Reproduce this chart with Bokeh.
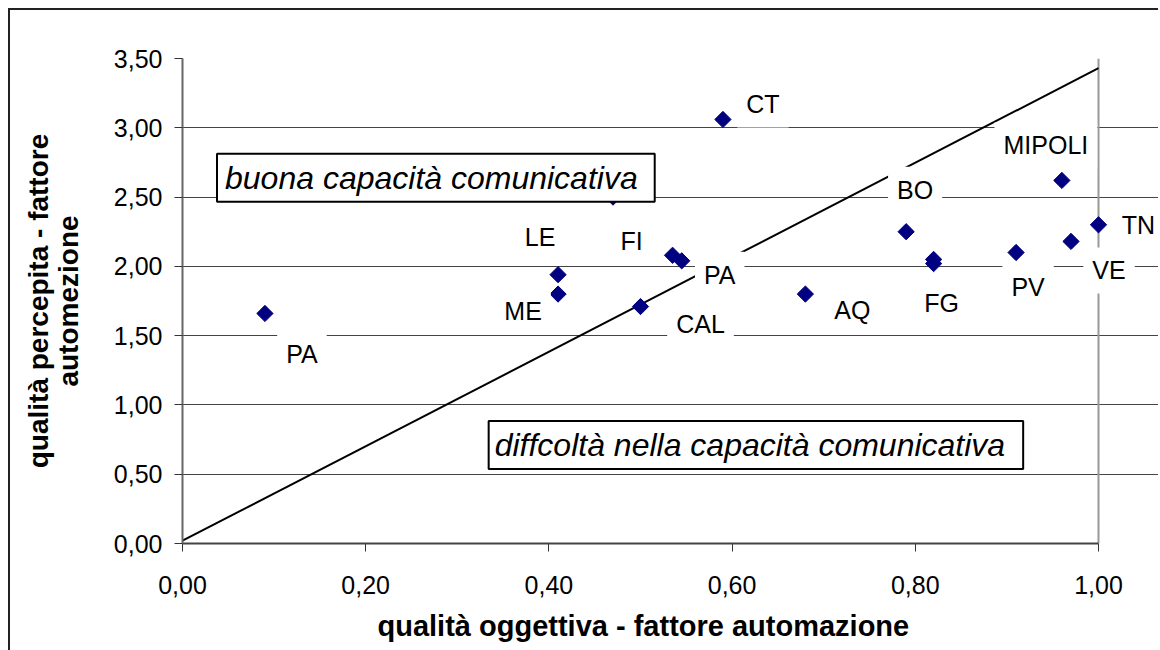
import math
from bokeh.plotting import figure
from bokeh.models import Range1d, Label, Title, FixedTicker, Span
from bokeh.embed import file_html
from bokeh.resources import INLINE

# ---- data ----
city = ["PA", "LE", "ME", "", "FI", "PA", "CAL", "CT", "AQ", "BO", "FG", "", "PV", "VE", "MIPOLI", "TN"]
fattore_automazione = [0.09, 0.41, 0.41, 0.47, 0.535, 0.545, 0.50, 0.59, 0.68, 0.79, 0.82, 0.82, 0.91, 0.97, 0.96, 1.00]
percepita_automezione = [1.66, 1.94, 1.80, 2.50, 2.08, 2.04, 1.71, 3.06, 1.80, 2.25, 2.05, 2.02, 2.10, 2.18, 2.62, 2.30]

diag_x = [0.0, 1.0]
diag_y = [0.02, 3.43]

x_ticks = [0.0, 0.2, 0.4, 0.6, 0.8, 1.0]
x_tick_labels = ["0,00", "0,20", "0,40", "0,60", "0,80", "1,00"]
y_ticks = [0.0, 0.5, 1.0, 1.5, 2.0, 2.5, 3.0, 3.5]
y_tick_labels = ["0,00", "0,50", "1,00", "1,50", "2,00", "2,50", "3,00", "3,50"]

x_title = "qualità oggettiva - fattore automazione"
y_title_1 = "qualità percepita - fattore"
y_title_2 = "automezione"
box_texts = ["buona capacità comunicativa", "diffcoltà nella capacità comunicativa"]

# ---- placement / style (not data) ----
X_MIN, X_MAX = 0.0, 1.0
Y_MIN, Y_MAX = 0.0, 3.5
X_VIEW_END = 976 / 916  # extra room right of the plot area for the labels
label_dx = [37, -18, -35, 0, -41, 38, 60, 40, 47, 9, 8, 0, 12, 38, -16, 40]
label_dy = [-41, 38, -17, 0, 14, -14, -17, 15, -16, 42, -44, 0, -34, -29, 35, 0]
box_pos = [(0.2766, 2.640), (0.626, 0.711)]
box_pad = [dict(left=8, right=17, top=6, bottom=6), dict(left=6, right=18, top=6, bottom=6)]

FONT = "Liberation Sans"

p = figure(frame_width=976, frame_height=485,
           min_border_left=172, min_border_right=0, min_border_top=48, min_border_bottom=105,
           x_range=Range1d(X_MIN, X_VIEW_END), y_range=Range1d(Y_MIN, Y_MAX),
           output_backend="svg", toolbar_location=None, title=None)
p.background_fill_color = "white"
p.border_fill_color = "white"
p.outline_line_color = None
p.styles = {"margin-left": "8px", "margin-top": "8px",
            "border-left": "2px solid #222222", "border-top": "2px solid #222222"}

p.xgrid.visible = False
p.ygrid.ticker = FixedTicker(ticks=y_ticks)
p.ygrid.grid_line_color = "#444444"
p.ygrid.grid_line_width = 1
p.ygrid.bounds = (X_MIN, X_MAX)

p.xaxis.ticker = FixedTicker(ticks=x_ticks)
p.xaxis.major_label_overrides = dict(zip(x_ticks, x_tick_labels))
p.xaxis.bounds = (X_MIN, X_MAX)
p.yaxis.ticker = FixedTicker(ticks=y_ticks)
p.yaxis.major_label_overrides = dict(zip(y_ticks, y_tick_labels))

for ax in (p.xaxis, p.yaxis):
    ax.major_label_text_font = FONT
    ax.major_label_text_font_size = "25px"
    ax.major_label_text_color = "black"
    ax.major_tick_out = 8
    ax.major_tick_in = 0
    ax.major_tick_line_color = "#333333"
    ax.minor_tick_line_color = None
    ax.axis_line_width = 2
p.xaxis.axis_line_color = "#444444"
p.yaxis.axis_line_color = "#666666"
p.xaxis.major_label_standoff = 24
p.yaxis.major_label_standoff = 12

# x title, centred under the plot area (0..1), not under the widened frame
tx = Title(text=x_title, align="left", offset=195, standoff=23, text_font=FONT,
           text_font_size="29px", text_font_style="bold", text_color="black")
p.add_layout(tx, "below")

# y title, two centred lines
t2 = Title(text=y_title_2, align="center", standoff=53, text_font=FONT, text_font_size="28px",
           text_font_style="bold", text_color="black")
p.add_layout(t2, "left")
t1 = Title(text=y_title_1, align="center", standoff=-58, text_font=FONT, text_font_size="28px",
           text_font_style="bold", text_color="black")
p.add_layout(t1, "left")

# right border of the plot area
right_border = Span(location=X_MAX, dimension="height", line_color="#999999", line_width=2,
                    level="underlay")
p.add_layout(right_border)

p.line(diag_x, diag_y, line_color="black", line_width=2)
p.scatter(fattore_automazione, percepita_automezione, marker="square", angle=math.pi / 4,
          size=11.5, fill_color="#000080", line_color="#000080")

for xv, yv, name, dx, dy in zip(fattore_automazione, percepita_automezione, city, label_dx, label_dy):
    if not name:
        continue
    p.add_layout(Label(x=xv, y=yv, text=name, x_offset=dx, y_offset=dy,
                       text_align="center", text_baseline="middle",
                       text_font=FONT, text_font_size="25px", text_color="black",
                       background_fill_color="white", padding=9))

for (bx, by), txt, pad in zip(box_pos, box_texts, box_pad):
    p.add_layout(Label(x=bx, y=by, text=txt, text_align="center", text_baseline="middle",
                       text_font=FONT, text_font_size="32px", text_font_style="italic",
                       text_color="black", background_fill_color="white",
                       border_line_color="black", border_line_width=2, padding=pad))

open("out.html", "w").write(file_html(p, INLINE))
